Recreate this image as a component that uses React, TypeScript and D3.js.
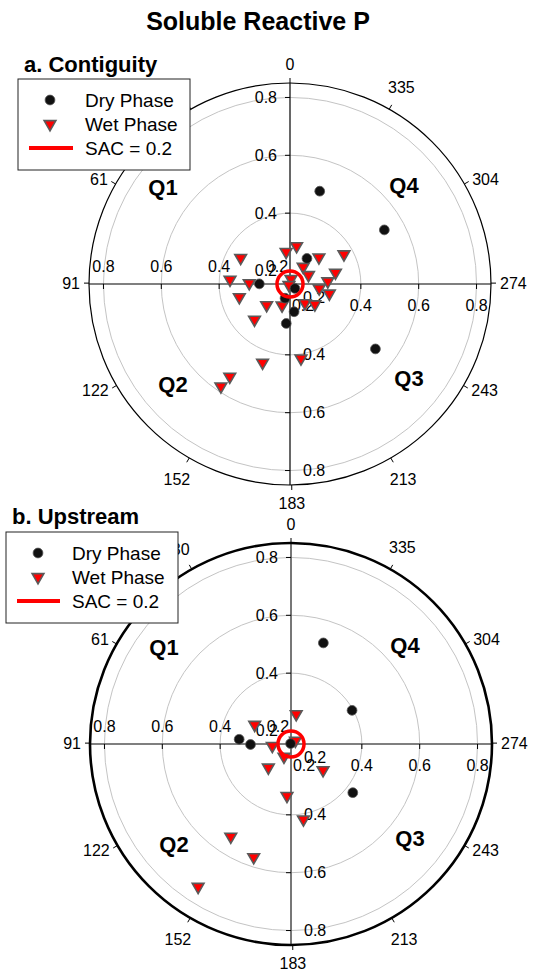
import * as d3 from "d3";
import React from "react";

// angular axis: day of year, counter-clockwise from the top
const angleTickDays = [0, 30, 61, 91, 122, 152, 183, 213, 243, 274, 304, 335];
const radialTicks = [0.2, 0.4, 0.6, 0.8];
const sacValue = 0.2;

// [day of year, mean resultant length]
const contiguityDry: [number, number][] = [
  [347, 0.492], [304, 0.531], [331, 0.261], [91, 0.261], [236, 0.526],
  [231, 0.178], [163, 0.207], [191, 0.252], [177, 0.292],
];
const contiguityWet: [number, number][] = [
  [355, 0.288], [7, 0.267], [63, 0.348], [317, 0.291], [303, 0.368],
  [327, 0.23], [300, 0.226], [288, 0.317], [87, 0.363], [90, 0.296],
  [278, 0.286], [265, 0.257], [260, 0.295], [106, 0.336], [134, 0.264],
  [162, 0.234], [221, 0.239], [234, 0.266], [137, 0.329], [163, 0.443],
  [191, 0.415], [149, 0.537], [148, 0.582], [354, 0.173], [137, 0.16],
];
const upstreamDry: [number, number][] = [
  [347, 0.522], [303, 0.396], [86, 0.335], [92, 0.295], [46, 0.157], [235, 0.427],
];
const upstreamWet: [number, number][] = [
  [355, 0.26], [63, 0.297], [97, 0.22], [311, 0.174], [153, 0.205], [138, 0.268],
  [234, 0.298], [178, 0.335], [192, 0.419], [149, 0.537], [164, 0.567], [149, 0.744],
];

const W = 533;
const H = 978;
const R = 201;
const FONT = "'Liberation Sans', Arial, Helvetica, sans-serif";

const rScale = d3.scaleLinear().domain([0.155, 0.85]).range([0, R]);
const aScale = d3.scaleLinear().domain([0, 365]).range([0, 2 * Math.PI]);

const triPath = d3.symbol(d3.symbolTriangle, 60)()!;

function toXY(day: number, value: number, cx: number, cy: number) {
  const a = aScale(day);
  const r = rScale(value);
  return [cx - r * Math.sin(a), cy - r * Math.cos(a)];
}

// where an angular label sits, relative to the centre
function angleLabelPos(day: number) {
  const a = aScale(day);
  const ux = -Math.sin(a);
  const uy = -Math.cos(a);
  const w = String(day).length * 8.9;
  if (Math.abs(ux) > 0.72) {
    // side labels: anchored by their inner edge
    const p = R + 9;
    return [ux * p + Math.sign(ux) * (w / 2), uy * p];
  }
  const off = R + 13 + Math.abs(ux) * (w / 2) + Math.abs(uy) * 5.75;
  return [ux * off, uy * off];
}

const Dot = ({ x, y }: { x: number; y: number }) => (
  <circle cx={x} cy={y} r={4.9} fill="#111" stroke="#555" strokeWidth={0.8} />
);

const Tri = ({ x, y }: { x: number; y: number }) => (
  <path d={triPath} transform={`translate(${x},${y}) rotate(180)`} fill="#ff0000" stroke="#5a5a5a" strokeWidth={1.6} />
);

interface PolarProps {
  cx: number;
  cy: number;
  dry: [number, number][];
  wet: [number, number][];
  outerWidth: number;
  axisColor: string;
  axisWidth: number;
}

const PolarPanel = ({ cx, cy, dry, wet, outerWidth, axisColor, axisWidth }: PolarProps) => {
  const quads = [
    { t: "Q1", dx: -127, dy: -97 },
    { t: "Q4", dx: 114, dy: -99 },
    { t: "Q2", dx: -117, dy: 100 },
    { t: "Q3", dx: 119, dy: 94 },
  ];
  return (
    <g>
      {radialTicks.map((v) => (
        <circle key={v} cx={cx} cy={cy} r={rScale(v)} fill="none" stroke="#c4c4c4" strokeWidth={1} />
      ))}
      <line x1={cx - R} x2={cx + R} y1={cy} y2={cy} stroke={axisColor} strokeWidth={axisWidth} />
      <line x1={cx} x2={cx} y1={cy - R} y2={cy + R} stroke={axisColor} strokeWidth={axisWidth} />
      <circle cx={cx} cy={cy} r={R} fill="none" stroke="#000" strokeWidth={outerWidth} />
      {angleTickDays.map((d) => {
        const a = aScale(d);
        const ux = -Math.sin(a);
        const uy = -Math.cos(a);
        const [lx, ly] = angleLabelPos(d);
        return (
          <g key={d}>
            <line x1={cx + ux * R} y1={cy + uy * R} x2={cx + ux * (R + 5)} y2={cy + uy * (R + 5)} stroke="#000" strokeWidth={1} />
            <text x={cx + lx} y={cy + ly} textAnchor="middle" dominantBaseline="central" fontSize={16}>
              {d}
            </text>
          </g>
        );
      })}
      {radialTicks.map((v) => {
        const r = rScale(v);
        return (
          <g key={"rt" + v} fontSize={16}>
            <line x1={cx - 5} x2={cx} y1={cy - r} y2={cy - r} stroke="#000" />
            <line x1={cx - 5} x2={cx} y1={cy + r} y2={cy + r} stroke="#000" />
            <line x1={cx - r} x2={cx - r} y1={cy} y2={cy + 5} stroke="#000" />
            <line x1={cx + r} x2={cx + r} y1={cy} y2={cy + 5} stroke="#000" />
            <text x={cx - 13} y={cy - r} textAnchor="end" dominantBaseline="central">{v}</text>
            <text x={cx + 13} y={cy + r} textAnchor="start" dominantBaseline="central">{v}</text>
            <text x={cx - r} y={cy - 12} textAnchor="middle">{v}</text>
            <text x={cx + r} y={cy + 27} textAnchor="middle">{v}</text>
          </g>
        );
      })}
      {quads.map((q) => (
        <text key={q.t} x={cx + q.dx} y={cy + q.dy} textAnchor="middle" dominantBaseline="central" fontSize={22} fontWeight="bold">
          {q.t}
        </text>
      ))}
      {wet.map(([d, v], i) => {
        const [x, y] = toXY(d, v, cx, cy);
        return <Tri key={"w" + i} x={x} y={y} />;
      })}
      {dry.map(([d, v], i) => {
        const [x, y] = toXY(d, v, cx, cy);
        return <Dot key={"d" + i} x={x} y={y} />;
      })}
      <circle cx={cx} cy={cy} r={rScale(sacValue)} fill="none" stroke="#ff0000" strokeWidth={3.5} />
    </g>
  );
};

const Legend = ({ x, y, symX, lineX0, lineX1, textX }: { x: number; y: number; symX: number; lineX0: number; lineX1: number; textX: number }) => (
  <g fontSize={19}>
    <rect x={x} y={y} width={172} height={91} fill="#fff" stroke="#222" strokeWidth={1} />
    <Dot x={symX} y={y + 21} />
    <text x={textX} y={y + 21} dominantBaseline="central">Dry Phase</text>
    <Tri x={symX} y={y + 45} />
    <text x={textX} y={y + 45} dominantBaseline="central">Wet Phase</text>
    <line x1={lineX0} x2={lineX1} y1={y + 69} y2={y + 69} stroke="#ff0000" strokeWidth={4} />
    <text x={textX} y={y + 69} dominantBaseline="central">SAC = 0.2</text>
  </g>
);

export default function App() {
  return (
    <svg width={W} height={H} style={{ position: "absolute", left: 0, top: 0, background: "#fff" }} fontFamily={FONT}>
      <rect width={W} height={H} fill="#fff" />
      <text x={258} y={30} textAnchor="middle" fontSize={25} fontWeight="bold">Soluble Reactive P</text>

      <PolarPanel cx={290} cy={284} dry={contiguityDry} wet={contiguityWet} outerWidth={1.2} axisColor="#000" axisWidth={1.2} />
      <text x={24} y={72} fontSize={22} fontWeight="bold">a. Contiguity</text>
      <Legend x={18} y={79} symX={50} lineX0={29} lineX1={73} textX={85} />

      <PolarPanel cx={291} cy={744} dry={upstreamDry} wet={upstreamWet} outerWidth={2.6} axisColor="#555" axisWidth={1.6} />
      <text x={12} y={524} fontSize={22} fontWeight="bold">b. Upstream</text>
      <Legend x={6} y={532} symX={38} lineX0={17} lineX1={60} textX={72} />
    </svg>
  );
}
